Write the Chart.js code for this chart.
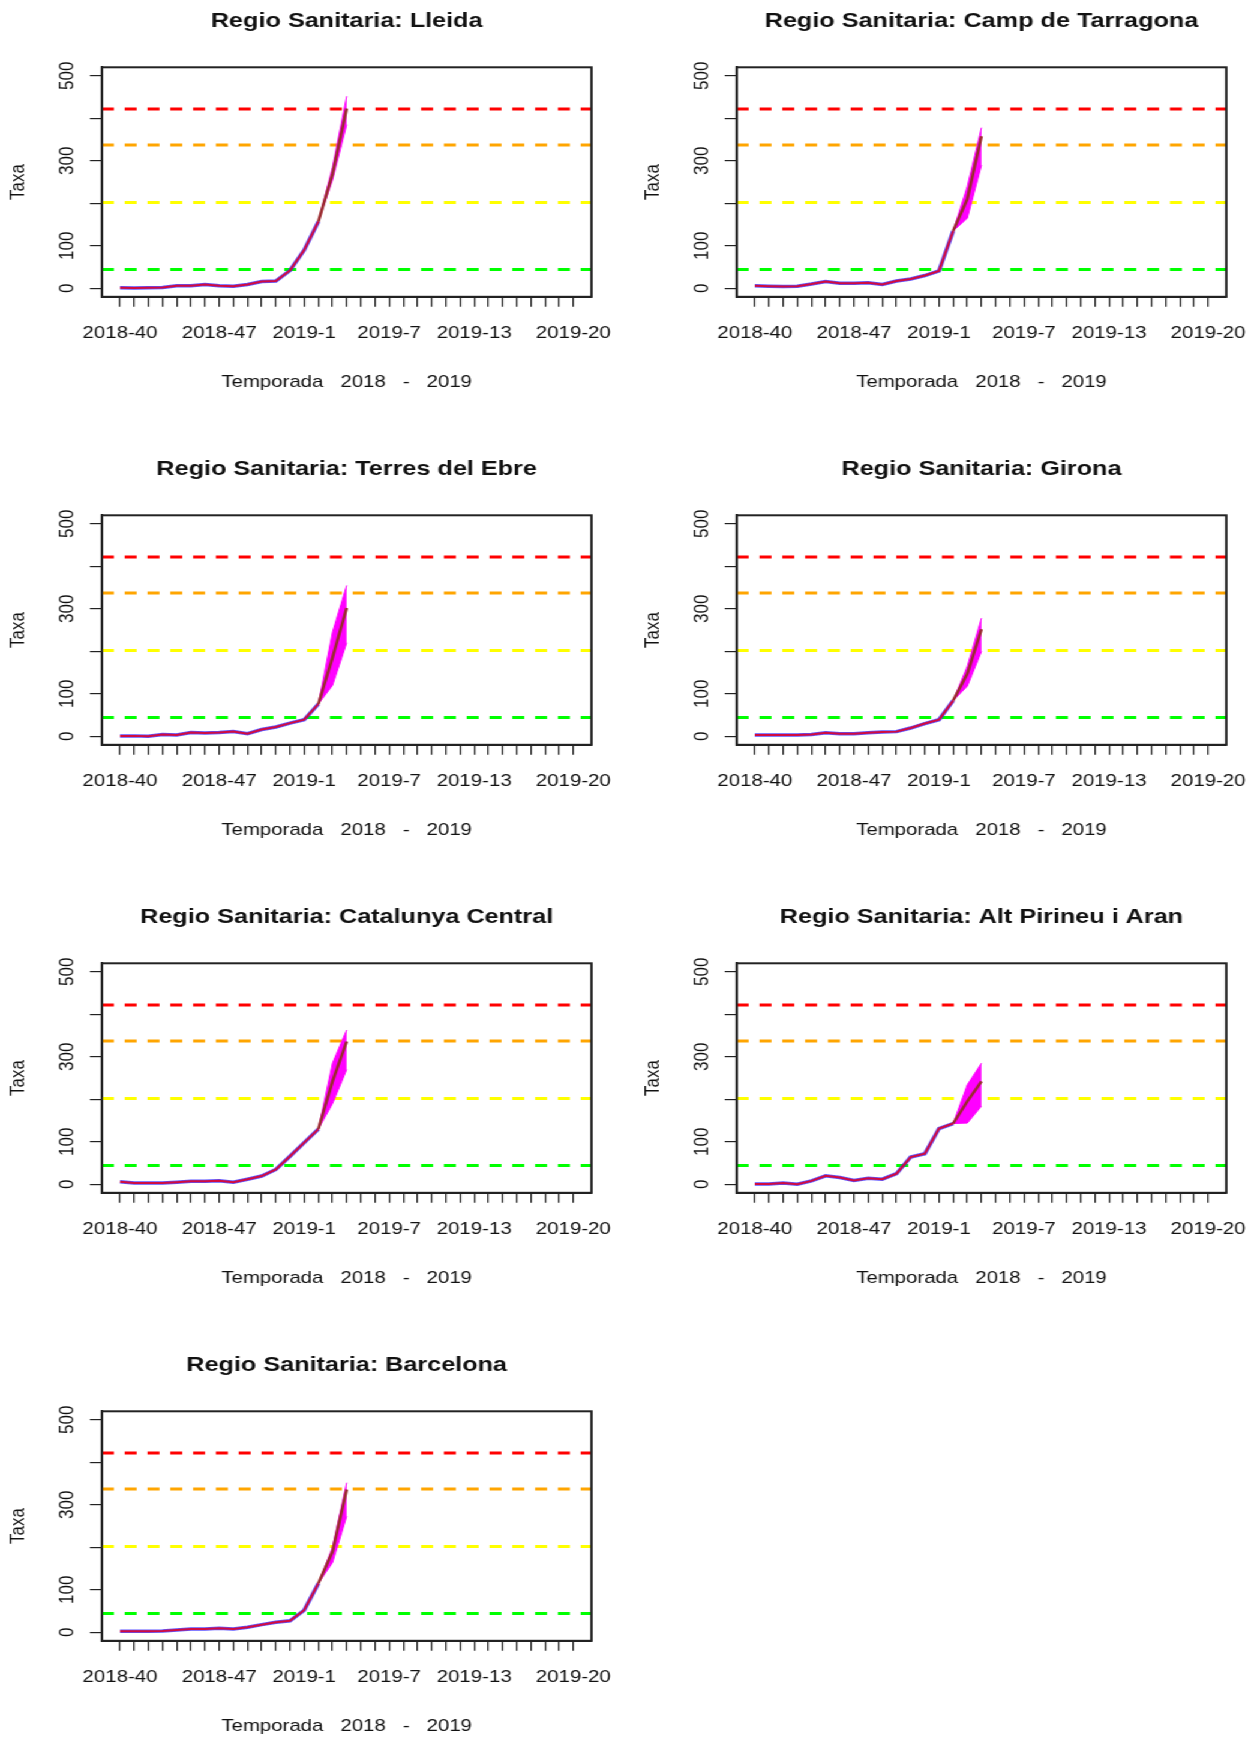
<!DOCTYPE html>
<html>
<head>
<meta charset="utf-8">
<title>Regions Sanitaries - Temporada 2018-2019</title>
<script src="https://cdn.jsdelivr.net/npm/chart.js@4.4.1/dist/chart.umd.min.js"></script>
<style>
    html, body { margin: 0; padding: 0; background: #fff; overflow: hidden; width: 1252px; height: 1739px; }
    /* la figura original esta estirada en horitzontal */
    #figura { position: absolute; left: 0; top: 0; width: 1044px; height: 1739px;
              transform: scaleX(1.2); transform-origin: 0 0; }
    .panel { position: absolute; width: 530px; height: 448px; }
</style>
</head>
<body>
<div id="figura"></div>
<script>
/* ============================================================
   DADES
   ============================================================ */

const setmanes = [
    "2018-40", "2018-41", "2018-42", "2018-43", "2018-44", "2018-45", "2018-46",
    "2018-47", "2018-48", "2018-49", "2018-50", "2018-51", "2018-52",
    "2019-1", "2019-2", "2019-3", "2019-4", "2019-5", "2019-6", "2019-7",
    "2019-8", "2019-9", "2019-10", "2019-11", "2019-12", "2019-13", "2019-14",
    "2019-15", "2019-16", "2019-17", "2019-18", "2019-19", "2019-20"
];
const setmanesVisibles = ["2018-40", "2018-47", "2019-1", "2019-7", "2019-13", "2019-20"];

const ticksY = [0, 100, 200, 300, 400, 500];
const etiquetesY = [0, 100, 300, 500];

// llindars: epidemic, mitja, alta, molt alta
const llindars = [44, 202, 337, 422];
const colorsLlindars = ["#00ff00", "#ffff00", "#ffa500", "#ff0000"];

const regions = ["Lleida", "Camp de Tarragona", "Terres del Ebre", "Girona",
                 "Catalunya Central", "Alt Pirineu i Aran", "Barcelona"];

// taxa observada 2018-40 .. 2019-2
const taxaLleida    = [1.5, 1, 1.5, 2, 6, 6, 9, 6, 5, 9, 16, 17, 42, 90, 157];
const taxaTarragona = [6, 5, 4, 5, 10, 16, 12, 12, 13, 9, 17, 22, 30, 41, 135];
const taxaEbre      = [1, 1, 0, 4, 3, 9, 8, 9, 11, 6, 16, 22, 31, 39, 76];
const taxaGirona    = [3, 3, 3, 3, 4.5, 8.5, 6, 6, 8.5, 10, 11, 19.5, 30, 39, 84];
const taxaCentral   = [6, 3, 3, 3, 5, 7, 7, 8.5, 5, 12, 19.5, 35, 66, 98, 130];
const taxaPirineu   = [1, 1, 3, 0, 8, 20, 16, 9, 14, 12, 25, 64, 72, 131, 143];
const taxaBarcelona = [2.5, 2.5, 2.5, 3, 5.5, 8, 8, 9.5, 8, 12, 18, 23.5, 27, 52, 115];

// previsio 2019-2 .. 2019-4 i interval
const prevLleida    = [157, 269, 423];
const infLleida     = [157, 255, 385];
const supLleida     = [157, 285, 452];
const prevTarragona = [135, 210, 358];
const infTarragona  = [135, 165, 290];
const supTarragona  = [135, 240, 378];
const prevEbre      = [76, 185, 302];
const infEbre       = [76, 120, 220];
const supEbre       = [76, 245, 355];
const prevGirona    = [84, 147, 252];
const infGirona     = [84, 118, 200];
const supGirona     = [84, 165, 278];
const prevCentral   = [130, 242, 336];
const infCentral    = [130, 190, 270];
const supCentral    = [130, 285, 363];
const prevPirineu   = [143, 195, 242];
const infPirineu    = [143, 144, 184];
const supPirineu    = [143, 234, 285];
const prevBarcelona = [115, 190, 336];
const infBarcelona  = [115, 164, 273];
const supBarcelona  = [115, 200, 352];

const series = [
    [taxaLleida, prevLleida, infLleida, supLleida],
    [taxaTarragona, prevTarragona, infTarragona, supTarragona],
    [taxaEbre, prevEbre, infEbre, supEbre],
    [taxaGirona, prevGirona, infGirona, supGirona],
    [taxaCentral, prevCentral, infCentral, supCentral],
    [taxaPirineu, prevPirineu, infPirineu, supPirineu],
    [taxaBarcelona, prevBarcelona, infBarcelona, supBarcelona]
];

/* ============================================================
   MIDES (px sense estirar)
   ============================================================ */
const AMPLE_COL = 529.17;
const ALT_FILA = 448;
const AMPLE_CANVAS = 530;
const EIX_Y_AMPLE = 84.9;
const EIX_X_ALT = 151.2;
const FONT = '"Liberation Sans", Arial, Helvetica, sans-serif';

Chart.defaults.font.family = FONT;
Chart.defaults.color = "#111";

/* ============================================================
   Plugins
   ============================================================ */
const caixaPlugin = {
    id: "caixa",
    afterDatasetsDraw(chart) {
        const a = chart.chartArea;
        const ctx = chart.ctx;
        ctx.save();
        ctx.strokeStyle = "#222";
        ctx.lineWidth = 2;
        ctx.strokeRect(a.left, a.top, a.right - a.left, a.bottom - a.top);
        ctx.restore();
    }
};

// etiquetes de l'eix Y girades (com fa R)
const etiquetesYPlugin = {
    id: "etiquetesY",
    afterDraw(chart) {
        const sy = chart.scales.y;
        const ctx = chart.ctx;
        ctx.save();
        ctx.font = "17px " + FONT;
        ctx.fillStyle = "#111";
        ctx.textAlign = "center";
        ctx.textBaseline = "middle";
        etiquetesY.forEach(v => {
            ctx.save();
            ctx.translate(56.5, sy.getPixelForValue(v));
            ctx.rotate(-Math.PI / 2);
            ctx.fillText(String(v), 0, 0);
            ctx.restore();
        });
        ctx.restore();
    }
};

/* ============================================================
   Un grafic per regio
   ============================================================ */
function punts(valors, inici) {
    return valors.map((v, i) => ({ x: inici + i, y: v }));
}

function grafic(idx) {
    const [taxa, prev, inf, sup] = series[idx];
    const n = setmanes.length - 1;
    const xMin = -0.04 * n;
    const xMax = n + 0.04 * n;
    const iniciPrev = taxa.length - 1;

    const div = document.createElement("div");
    div.className = "panel";
    div.style.left = (idx % 2) * AMPLE_COL + "px";
    div.style.top = Math.floor(idx / 2) * ALT_FILA + "px";
    const canvas = document.createElement("canvas");
    canvas.width = AMPLE_CANVAS;
    canvas.height = ALT_FILA;
    div.appendChild(canvas);
    document.getElementById("figura").appendChild(div);

    const datasets = [
        { data: punts(prev, iniciPrev), borderColor: "#9a2b2e", borderWidth: 2.5 },
        { data: punts(taxa, 0), borderColor: "rgba(230,0,30,0.85)", borderWidth: 2 },
        { data: punts(taxa, 0), borderColor: "rgba(50,40,255,0.8)", borderWidth: 3.5 },
        { data: punts(sup, iniciPrev), borderColor: "#ff00ff", borderWidth: 1,
          backgroundColor: "#ff00ff", fill: "+1" },
        { data: punts(inf, iniciPrev), borderColor: "#ff00ff", borderWidth: 1 }
    ];
    llindars.forEach((t, k) => {
        datasets.push({
            data: [{ x: xMin, y: t }, { x: xMax, y: t }],
            borderColor: colorsLlindars[k],
            borderWidth: 3,
            borderDash: [10, 9]
        });
    });
    datasets.forEach(d => { d.pointRadius = 0; d.tension = 0; if (!d.fill) d.fill = false; });

    new Chart(canvas, {
        type: "line",
        data: { datasets },
        options: {
            responsive: false,
            animation: false,
            layout: { padding: { left: 0, right: AMPLE_CANVAS - 492.9, top: 0, bottom: 0 } },
            plugins: {
                legend: { display: false },
                tooltip: { enabled: false },
                title: {
                    display: true,
                    text: "Regio Sanitaria: " + regions[idx],
                    fullSize: false,
                    font: { size: 21, weight: "bold" },
                    color: "#111",
                    padding: { top: 9, bottom: 33.1 }
                }
            },
            scales: {
                x: {
                    type: "linear",
                    min: xMin,
                    max: xMax,
                    afterBuildTicks: s => { s.ticks = setmanes.map((_, i) => ({ value: i })); },
                    afterFit: s => { s.height = EIX_X_ALT; },
                    ticks: {
                        autoSkip: false, maxRotation: 0, minRotation: 0, padding: 16,
                        font: { size: 17 }, color: "#111",
                        callback: v => setmanesVisibles.includes(setmanes[v]) ? setmanes[v] : ""
                    },
                    grid: { drawOnChartArea: false, drawTicks: true, tickLength: 10, color: "#222", lineWidth: 1.2 },
                    border: { display: true, color: "#222", width: 2 },
                    title: {
                        display: true, text: "Temporada   2018   -   2019",
                        font: { size: 17 }, color: "#111", padding: { top: 0, bottom: 55.6 }
                    }
                },
                y: {
                    min: -20,
                    max: 520,
                    afterBuildTicks: s => { s.ticks = ticksY.map(v => ({ value: v })); },
                    afterFit: s => { s.width = EIX_Y_AMPLE; },
                    ticks: { display: false },
                    grid: { drawOnChartArea: false, drawTicks: true, tickLength: 10, color: "#222", lineWidth: 1.2 },
                    border: { display: true, color: "#222", width: 2 },
                    title: {
                        display: true, text: "Taxa",
                        font: { size: 17 }, color: "#111", padding: { top: 4.8, bottom: 0 }
                    }
                }
            }
        },
        plugins: [caixaPlugin, etiquetesYPlugin]
    });
}

regions.forEach((_, i) => grafic(i));
</script>
</body>
</html>
